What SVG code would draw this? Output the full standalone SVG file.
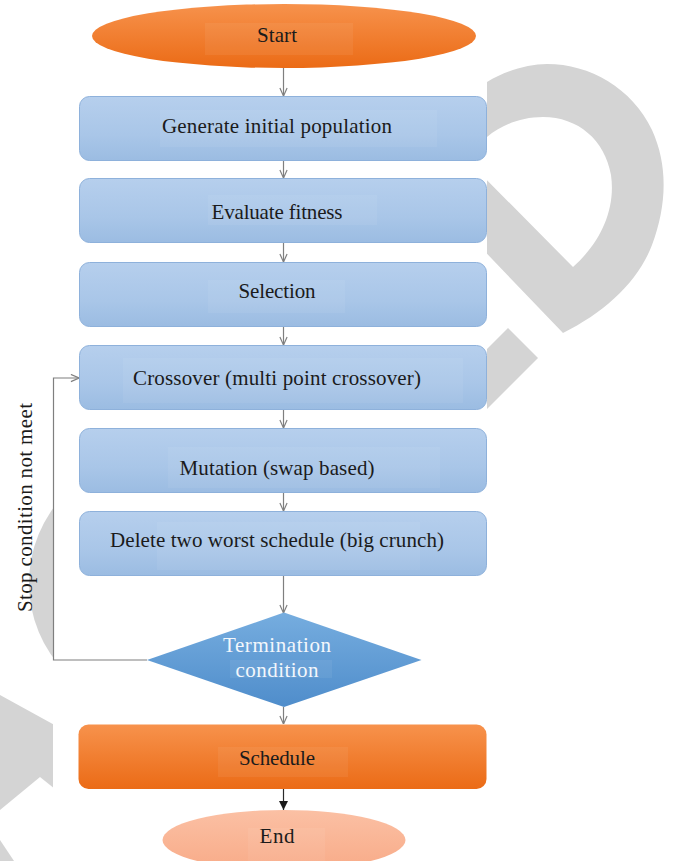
<svg xmlns="http://www.w3.org/2000/svg" width="676" height="861" viewBox="0 0 676 861">
  <style>
    .lbl { font-family: "Liberation Serif", "Times New Roman", serif; font-size: 21px; fill: #1b1b1b; text-anchor: middle; }
    .lbl-w { font-family: "Liberation Serif", "Times New Roman", serif; font-size: 21px; fill: #f3f7fc; text-anchor: middle; }
    .step { fill: url(#gBlue); stroke: #8eb1db; stroke-width: 1; }
    .tbg { fill: #ffffff; fill-opacity: 0.06; }
    .wm { fill: #d4d4d4; }
    .link { fill: none; stroke: #7f7f7f; stroke-width: 1.2; }
    .link-dark { fill: none; stroke: #2a2a2a; stroke-width: 1.2; }
  </style>
  <defs>
    <linearGradient id="gBlue" x1="0" y1="0" x2="0" y2="1">
      <stop offset="0" stop-color="#b6cfed"/>
      <stop offset="0.6" stop-color="#a9c6e8"/>
      <stop offset="1" stop-color="#9bbce2"/>
    </linearGradient>
    <linearGradient id="gOrange" x1="0" y1="0" x2="0" y2="1">
      <stop offset="0" stop-color="#f7924c"/>
      <stop offset="1" stop-color="#eb6b16"/>
    </linearGradient>
    <linearGradient id="gPeach" x1="0" y1="0" x2="0" y2="1">
      <stop offset="0" stop-color="#fbc0a4"/>
      <stop offset="1" stop-color="#f8ab88"/>
    </linearGradient>
    <linearGradient id="gDiamond" x1="0" y1="0" x2="0" y2="1">
      <stop offset="0" stop-color="#76addf"/>
      <stop offset="1" stop-color="#4f8dcb"/>
    </linearGradient>
    <marker id="arrOpen" viewBox="0 0 10 10" refX="10" refY="5" markerWidth="9" markerHeight="9" markerUnits="userSpaceOnUse" orient="auto">
      <path d="M1,1 L10,5 L1,9" fill="none" stroke="#7f7f7f" stroke-width="1.3"/>
    </marker>
    <marker id="arrSolid" viewBox="0 0 10 10" refX="10" refY="5" markerWidth="9" markerHeight="9" markerUnits="userSpaceOnUse" orient="auto">
      <path d="M0,0 L10,5 L0,10 Z" fill="#1a1a1a"/>
    </marker>
  </defs>

  <rect width="676" height="861" fill="#ffffff"/>

  <!-- background watermark shapes -->
  <g id="watermark">
    <path class="wm" fill-rule="evenodd" d="M470,92 L487,82 C505,71 528,64 547,64 C590,64 632,88 652,130 C668,165 667,205 652,245 C638,282 605,312 563,333 L470,236 Z M573,267 C600,243 616,210 611,175 C605,140 578,117 543,117 C520,117 500,126 487,137 L470,150 L470,163 Z"/>
    <polygon class="wm" points="508,328 538,358 470,426 440,396"/>
    <circle class="wm" cx="157" cy="583" r="128"/>
    <polygon class="wm" points="0,695 60,728 60,793 40,777 0,810"/>
    <polygon class="wm" points="0,840 14,861 0,861"/>
  </g>
  <!-- figure panel -->
  <rect x="53" y="0" width="434" height="861" fill="#ffffff"/>

  <g id="connectors">
    <line class="link" x1="283.5" y1="68" x2="283.5" y2="96" marker-end="url(#arrOpen)"/>
    <line class="link" x1="283.5" y1="161" x2="283.5" y2="178" marker-end="url(#arrOpen)"/>
    <line class="link" x1="283.5" y1="243" x2="283.5" y2="262" marker-end="url(#arrOpen)"/>
    <line class="link" x1="283.5" y1="327" x2="283.5" y2="345" marker-end="url(#arrOpen)"/>
    <line class="link" x1="283.5" y1="410" x2="283.5" y2="428" marker-end="url(#arrOpen)"/>
    <line class="link" x1="283.5" y1="493" x2="283.5" y2="511" marker-end="url(#arrOpen)"/>
    <line class="link" x1="283.5" y1="576" x2="283.5" y2="613" marker-end="url(#arrOpen)"/>
    <line class="link" x1="283.5" y1="707" x2="283.5" y2="724" marker-end="url(#arrOpen)"/>
    <line class="link-dark" x1="283.5" y1="789" x2="283.5" y2="810" marker-end="url(#arrSolid)"/>
    <polyline class="link" points="147,660 53.5,660 53.5,378 79,378" marker-end="url(#arrOpen)"/>
    <text class="lbl" transform="translate(31.5,507.5) rotate(-90)" x="0" y="0" textLength="209" lengthAdjust="spacing">Stop condition not meet</text>
  </g>

  <g id="start">
    <ellipse cx="284" cy="36" rx="192" ry="32" fill="url(#gOrange)"/>
    <rect class="tbg" x="205" y="23" width="148" height="32"/>
    <text class="lbl" x="277" y="42" textLength="40" lengthAdjust="spacing">Start</text>
  </g>

  <g id="generate">
    <rect class="step" x="79.5" y="96.5" width="407" height="64" rx="10"/>
    <rect class="tbg" x="160" y="110" width="277" height="37"/>
    <text class="lbl" x="277" y="133" textLength="230" lengthAdjust="spacing">Generate initial population</text>
  </g>

  <g id="evaluate">
    <rect class="step" x="79.5" y="178.5" width="407" height="64" rx="10"/>
    <rect class="tbg" x="208" y="195" width="169" height="30"/>
    <text class="lbl" x="277" y="219" textLength="131" lengthAdjust="spacing">Evaluate fitness</text>
  </g>

  <g id="selection">
    <rect class="step" x="79.5" y="262.5" width="407" height="64" rx="10"/>
    <rect class="tbg" x="208" y="280" width="137" height="33"/>
    <text class="lbl" x="277" y="298" textLength="77" lengthAdjust="spacing">Selection</text>
  </g>

  <g id="crossover">
    <rect class="step" x="79.5" y="345.5" width="407" height="64" rx="10"/>
    <rect class="tbg" x="123" y="358" width="340" height="45"/>
    <text class="lbl" x="277" y="385" textLength="288" lengthAdjust="spacing">Crossover (multi point crossover)</text>
  </g>

  <g id="mutation">
    <rect class="step" x="79.5" y="428.5" width="407" height="64" rx="10"/>
    <rect class="tbg" x="168" y="447" width="272" height="41"/>
    <text class="lbl" x="277" y="475" textLength="195" lengthAdjust="spacing">Mutation (swap based)</text>
  </g>

  <g id="delete">
    <rect class="step" x="79.5" y="511.5" width="407" height="64" rx="10"/>
    <rect class="tbg" x="157" y="522" width="263" height="48"/>
    <text class="lbl" x="277" y="547" textLength="334" lengthAdjust="spacing">Delete two worst schedule (big crunch)</text>
  </g>

  <g id="termination">
    <polygon points="284,612.5 421.5,660 284,707 147,660" fill="url(#gDiamond)"/>
    <rect class="tbg" x="230" y="660" width="102" height="18"/>
    <text class="lbl-w" x="277" y="652" textLength="108" lengthAdjust="spacing">Termination</text>
    <text class="lbl-w" x="277" y="677" textLength="83" lengthAdjust="spacing">condition</text>
  </g>

  <g id="schedule">
    <rect x="78.5" y="724.5" width="408" height="64.5" rx="10" fill="url(#gOrange)"/>
    <rect class="tbg" x="218" y="747" width="130" height="30"/>
    <text class="lbl" x="277" y="765" textLength="76" lengthAdjust="spacing">Schedule</text>
  </g>

  <g id="end">
    <ellipse cx="284" cy="840" rx="121.5" ry="30" fill="url(#gPeach)"/>
    <rect class="tbg" x="248" y="828" width="77" height="33"/>
    <text class="lbl" x="277" y="843" textLength="35" lengthAdjust="spacing">End</text>
  </g>
</svg>
